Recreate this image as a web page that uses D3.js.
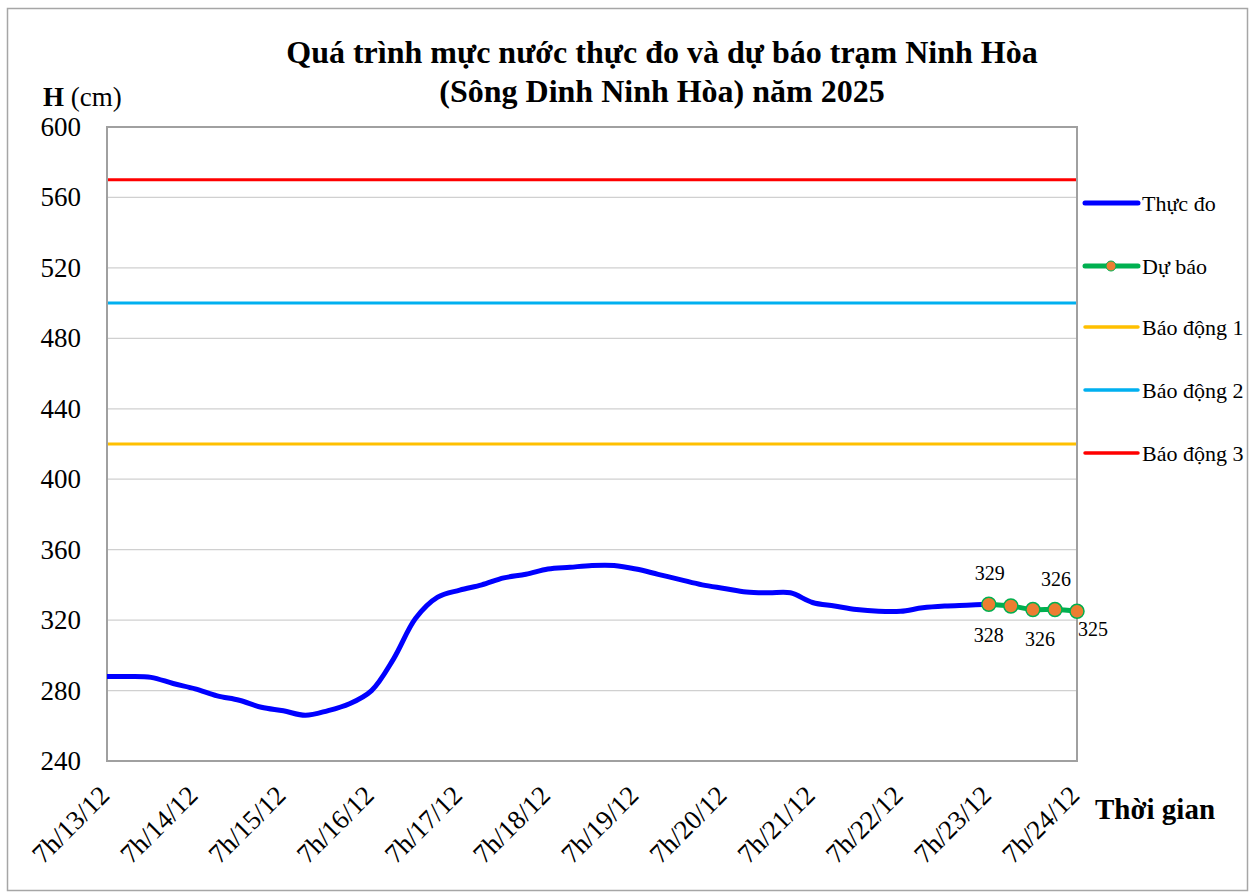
<!DOCTYPE html>
<html>
<head>
<meta charset="utf-8">
<script src="https://cdn.jsdelivr.net/npm/d3@7"></script>
<style>
  body { margin: 0; background: #fff; }
  text { font-family: "Times New Roman", "Liberation Serif", serif; }
</style>
</head>
<body>
<div id="chart"></div>
<script>
var W = 1253, H = 893;
var margin = { left: 107, top: 127, right: 1077, bottom: 761 };

// x labels, one per day at 7h
var dayLabels = ["7h/13/12", "7h/14/12", "7h/15/12", "7h/16/12", "7h/17/12", "7h/18/12",
                 "7h/19/12", "7h/20/12", "7h/21/12", "7h/22/12", "7h/23/12", "7h/24/12"];
var yTicks = [240, 280, 320, 360, 400, 440, 480, 520, 560, 600];

// observed water level, every 6 hours from 7h 13/12
var observed = [288, 288, 287.5, 284, 281, 277, 274.5, 270.5, 268.5, 266,
                268.5, 272.5, 280, 298, 321, 333, 337, 340, 344, 346,
                349, 350, 351, 351, 349, 346, 343, 340, 338, 336,
                335.5, 335.5, 330, 328, 326, 325, 325, 327, 328, 328.5, 329];
// forecast, every 6 hours from 7h 23/12
var forecast = [329, 328, 326, 326, 325];
var forecastStart = 40;
// label offsets (dx, dy) for each forecast value
var forecastLabelDx = [1, -22, 7, 1, 16];
var forecastLabelDy = [-24, 36, 36, -24, 25];

var alarms = [
  { name: "Báo động 1", value: 420, color: "#FFC000" },
  { name: "Báo động 2", value: 500, color: "#00B0F0" },
  { name: "Báo động 3", value: 570, color: "#FF0000" }
];

var svg = d3.select("#chart").append("svg")
  .attr("width", W).attr("height", H);

svg.append("rect")
  .attr("x", 7.5).attr("y", 8.5).attr("width", 1240).attr("height", 882)
  .attr("fill", "#fff").attr("stroke", "#a6a6a6").attr("stroke-width", 1.5);

var x = d3.scaleLinear().domain([0, 44]).range([margin.left, margin.right]);
var y = d3.scaleLinear().domain([240, 600]).range([margin.bottom, margin.top]);

// gridlines
svg.append("g").selectAll("line").data(yTicks.slice(1, -1)).join("line")
  .attr("x1", margin.left).attr("x2", margin.right)
  .attr("y1", function(d) { return y(d); }).attr("y2", function(d) { return y(d); })
  .attr("stroke", "#d0d0d0").attr("stroke-width", 1.3);

// y tick labels
svg.append("g").selectAll("text").data(yTicks).join("text")
  .attr("x", 81).attr("y", function(d) { return y(d) + 9; })
  .attr("text-anchor", "end")
  .style("font-size", "27px")
  .text(function(d) { return d; });

// alarm lines
svg.append("g").selectAll("line").data(alarms).join("line")
  .attr("x1", margin.left).attr("x2", margin.right)
  .attr("y1", function(d) { return y(d.value); }).attr("y2", function(d) { return y(d.value); })
  .attr("stroke", function(d) { return d.color; }).attr("stroke-width", 3);

// plot frame
svg.append("rect")
  .attr("x", margin.left).attr("y", margin.top)
  .attr("width", margin.right - margin.left).attr("height", margin.bottom - margin.top)
  .attr("fill", "none").attr("stroke", "#a0a0a0").attr("stroke-width", 2);

// observed line
var line = d3.line()
  .x(function(d) { return x(d[0]); })
  .y(function(d) { return y(d[1]); })
  .curve(d3.curveCatmullRom.alpha(0.5));

svg.append("path")
  .datum(observed.map(function(v, i) { return [i, v]; }))
  .attr("d", line)
  .attr("fill", "none").attr("stroke", "#0000FF").attr("stroke-width", 5)
  .attr("stroke-linejoin", "round");

// forecast line + markers
var fc = forecast.map(function(v, i) { return [forecastStart + i, v]; });
svg.append("path")
  .datum(fc)
  .attr("d", line)
  .attr("fill", "none").attr("stroke", "#00B050").attr("stroke-width", 5);

svg.append("g").selectAll("circle").data(fc).join("circle")
  .attr("cx", function(d) { return x(d[0]); })
  .attr("cy", function(d) { return y(d[1]); })
  .attr("r", 7)
  .attr("fill", "#ED7D31").attr("stroke", "#00B050").attr("stroke-width", 1.5);

svg.append("g").selectAll("text").data(fc).join("text")
  .attr("x", function(d, i) { return x(d[0]) + forecastLabelDx[i]; })
  .attr("y", function(d, i) { return y(d[1]) + forecastLabelDy[i]; })
  .attr("text-anchor", "middle")
  .style("font-size", "20px")
  .text(function(d) { return d[1]; });

// x tick labels, rotated
svg.append("g").selectAll("text").data(dayLabels).join("text")
  .attr("text-anchor", "end")
  .attr("transform", function(d, i) { return "translate(" + (x(i * 4) + 4) + ",797) rotate(-45)"; })
  .style("font-size", "27px")
  .text(function(d) { return d; });

// axis titles
var hLabel = svg.append("text").attr("x", 43).attr("y", 106).style("font-size", "27px");
hLabel.append("tspan").style("font-weight", "bold").text("H");
hLabel.append("tspan").text(" (cm)");

svg.append("text")
  .attr("x", 1095).attr("y", 819)
  .style("font-size", "29px").style("font-weight", "bold")
  .text("Thời gian");

// title
var title = svg.append("text")
  .attr("text-anchor", "middle")
  .style("font-size", "32px").style("font-weight", "bold");
title.append("tspan").attr("x", 662).attr("y", 63).text("Quá trình mực nước thực đo và dự báo trạm Ninh Hòa");
title.append("tspan").attr("x", 662).attr("y", 102).text("(Sông Dinh Ninh Hòa) năm 2025");

// legend
var legendItems = [
  { name: "Thực đo", color: "#0000FF", w: 5, marker: false },
  { name: "Dự báo", color: "#00B050", w: 5, marker: true },
  { name: "Báo động 1", color: "#FFC000", w: 3.5, marker: false },
  { name: "Báo động 2", color: "#00B0F0", w: 3.5, marker: false },
  { name: "Báo động 3", color: "#FF0000", w: 3.5, marker: false }
];
var legendY = [203, 266, 327, 390, 453];

var lg = svg.append("g").selectAll("g").data(legendItems).join("g")
  .attr("transform", function(d, i) { return "translate(0," + legendY[i] + ")"; });
lg.append("line")
  .attr("x1", 1085).attr("x2", 1138)
  .attr("stroke", function(d) { return d.color; })
  .attr("stroke-width", function(d) { return d.w; })
  .attr("stroke-linecap", "round");
lg.filter(function(d) { return d.marker; }).append("circle")
  .attr("cx", 1111).attr("r", 5)
  .attr("fill", "#ED7D31").attr("stroke", "#00B050").attr("stroke-width", 1);
lg.append("text")
  .attr("x", 1142).attr("y", 8)
  .style("font-size", "22px")
  .text(function(d) { return d.name; });
</script>
</body>
</html>
